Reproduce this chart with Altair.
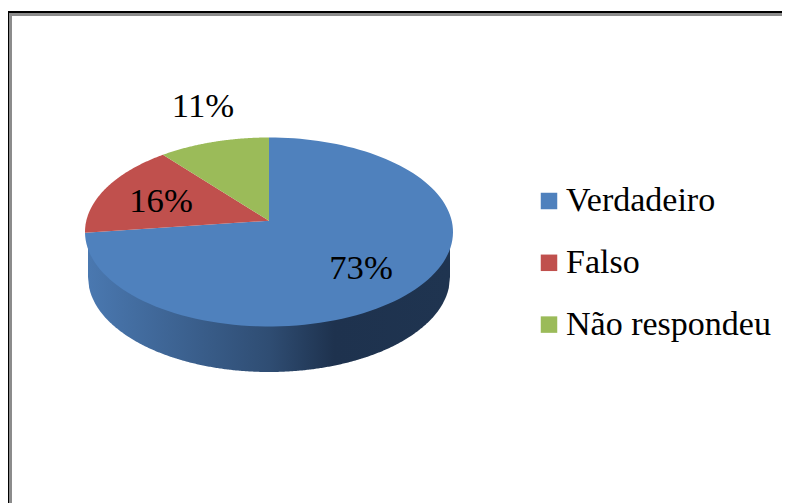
import altair as alt
import numpy as np
import pandas as pd

# Data
categories = ["Verdadeiro", "Falso", "Não respondeu"]
shares = [73, 16, 11]
labels = ["73%", "16%", "11%"]
colors = ["#4F81BD", "#C0504D", "#9BBB59"]

FONT = "Liberation Serif"
FS = 34.7
LEGEND_FS = 34
CX, CY, RX, RY = 269, 232, 184, 94.5
APEX_UP = 11.3
BOTTOM_CY, BOTTOM_RX, BOTTOM_RY = 277, 181, 95

xs = alt.Scale(domain=[8, 782], nice=False, zero=False)
ys = alt.Scale(domain=[8, 503], nice=False, zero=False, reverse=True)


def rim_point(theta):
    """Ray from the pie's apex at pie-angle theta (clockwise from 12 o'clock) to the tilted rim."""
    dx, dy = np.sin(theta), np.cos(theta)
    a = dx ** 2 + (dy * 1.0) ** 2
    k = APEX_UP / RY
    b = 2 * k * dy
    c = k ** 2 - 1
    t = (-b + np.sqrt(b ** 2 - 4 * a * c)) / (2 * a)
    return CX + t * dx * RX, CY - (k + t * dy) * RY


rows = []
start = 0.0
total = sum(shares)
for cat, share in zip(categories, shares):
    end = start + share / total * 2 * np.pi
    pts = [(CX, CY - APEX_UP)]
    pts += [rim_point(a) for a in np.linspace(start, end, 120)]
    pts += [(CX, CY - APEX_UP)]
    for i, (px, py) in enumerate(pts):
        rows.append({"x": px, "y": py, "cat": cat, "i": i})
    start = end
faces = pd.DataFrame(rows)

# Side wall of the disc: from under the top face down to the lower rim
wall_x = np.linspace(CX - BOTTOM_RX, CX + BOTTOM_RX, 300)
wall = pd.DataFrame({
    "x": wall_x,
    "y": CY + 10,
    "y2": BOTTOM_CY + BOTTOM_RY * np.sqrt(np.clip(1 - ((wall_x - CX) / BOTTOM_RX) ** 2, 0, 1)),
})
wall_layer = alt.Chart(wall).mark_area(
    line=False,
    color=alt.Gradient(
        gradient="linear", x1=0, x2=1, y1=0, y2=0,
        stops=[
            alt.GradientStop(offset=0, color="#4A78B0"),
            alt.GradientStop(offset=0.5, color="#2F4D73"),
            alt.GradientStop(offset=0.68, color="#1E324E"),
            alt.GradientStop(offset=1, color="#1F3450"),
        ],
    ),
).encode(
    x=alt.X("x:Q", scale=xs, axis=None),
    y=alt.Y("y:Q", scale=ys, axis=None),
    y2="y2:Q",
)

face_layer = alt.Chart(faces).mark_line(filled=True, strokeWidth=0.5).encode(
    x=alt.X("x:Q", scale=xs, axis=None),
    y=alt.Y("y:Q", scale=ys, axis=None),
    order=alt.Order("i:Q"),
    color=alt.Color(
        "cat:N",
        scale=alt.Scale(domain=categories, range=colors),
        legend=alt.Legend(
            title=None,
            orient="none",
            legendX=521.5,
            legendY=176,
            symbolType="square",
            symbolSize=272,
            symbolOffset=2.5,
            symbolStrokeWidth=0,
            labelFont=FONT,
            labelFontSize=LEGEND_FS,
            labelColor="#000000",
            labelOffset=0,
            rowPadding=27.8,
            labelLimit=300,
            padding=0,
        ),
    ),
)


def label(text, px, py):
    return alt.Chart(pd.DataFrame({"t": [text]})).mark_text(
        font=FONT, fontSize=FS, color="#000000", align="center", baseline="middle"
    ).encode(
        x=alt.X(datum=px, scale=xs, axis=None),
        y=alt.Y(datum=py, scale=ys, axis=None),
        text="t:N",
    )


def frame(x1, x2, y1, y2, color, width):
    return alt.Chart(pd.DataFrame({"a": [0]})).mark_rule(color=color, strokeWidth=width).encode(
        x=alt.X(datum=x1, scale=xs, axis=None),
        x2=alt.X2(datum=x2),
        y=alt.Y(datum=y1, scale=ys, axis=None),
        y2=alt.Y2(datum=y2),
    )


chart = alt.layer(
    frame(9, 782, 14.5, 14.5, "#8C8C8C", 3),
    frame(10.5, 10.5, 13, 503, "#8C8C8C", 3),
    frame(8, 782, 12, 12, "#000000", 2),
    frame(8.5, 8.5, 11, 503, "#000000", 1),
    wall_layer,
    face_layer,
    label(labels[0], 361, 269),
    label(labels[1], 161, 202),
    label(labels[2], 203, 107),
).properties(
    width=774,
    height=495,
    padding=0,
    background="#FFFFFF",
    autosize=alt.AutoSizeParams(type="none", contains="padding"),
).configure_view(stroke=None)

chart.save("out.html", embed_options={"renderer": "svg", "actions": False})
